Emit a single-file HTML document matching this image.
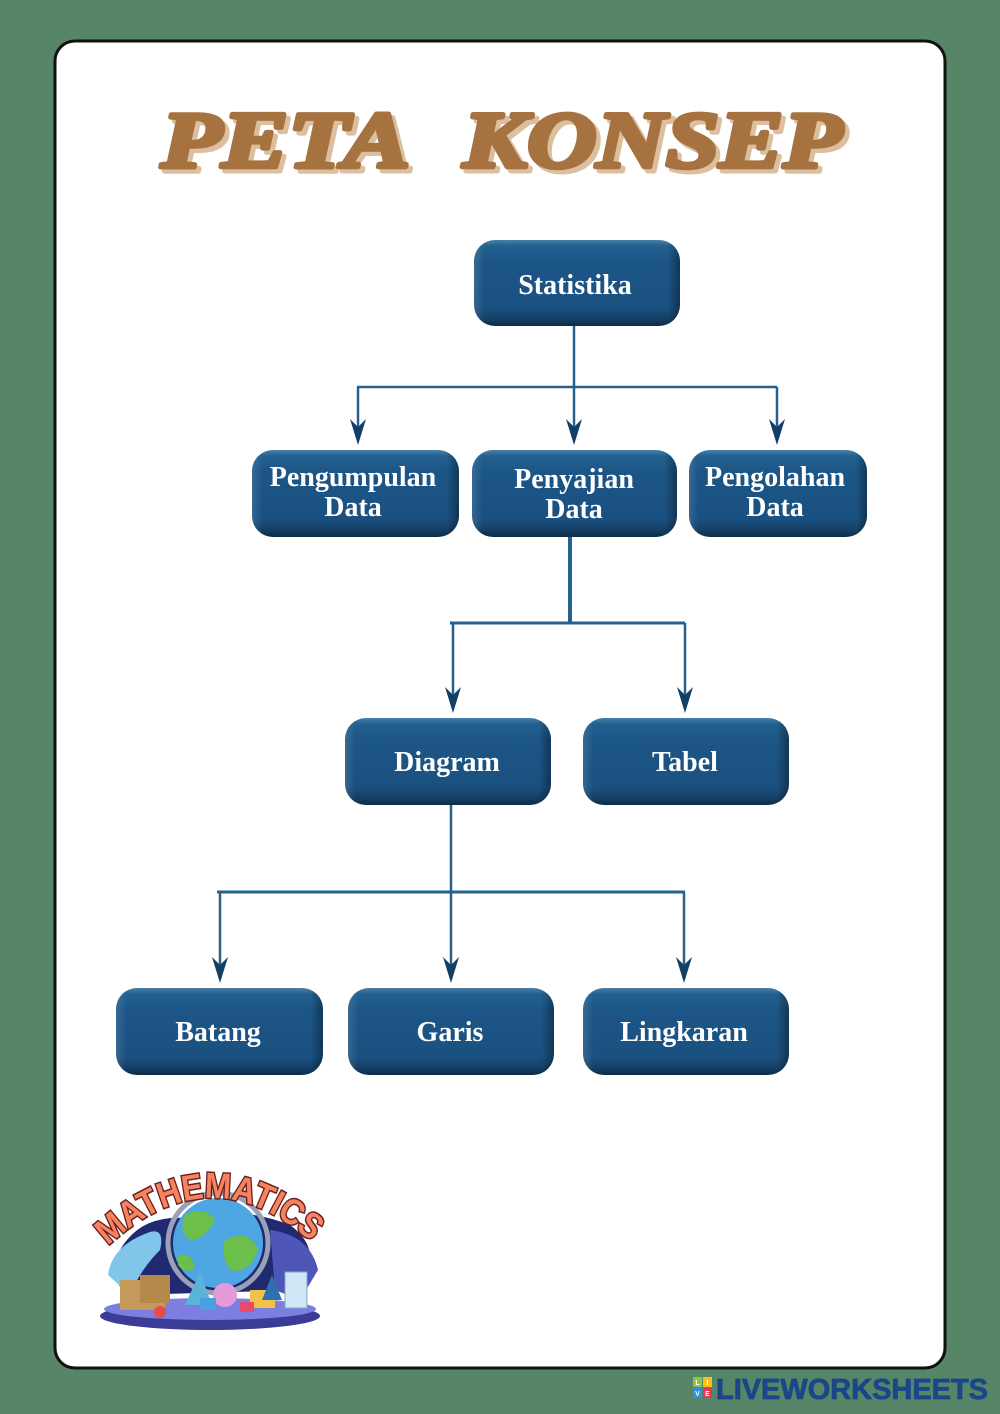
<!DOCTYPE html>
<html><head><meta charset="utf-8"><style>
html,body{margin:0;padding:0;background:#578567;}
svg{display:block;}
</style></head><body>
<svg width="1000" height="1414" viewBox="0 0 1000 1414" xmlns="http://www.w3.org/2000/svg">
<defs>
<linearGradient id="bv" x1="0" y1="0" x2="0" y2="1">
<stop offset="0" stop-color="#4a7fa8"/>
<stop offset="0.07" stop-color="#22608f"/>
<stop offset="0.25" stop-color="#1c5686"/>
<stop offset="0.8" stop-color="#1a5080"/>
<stop offset="0.93" stop-color="#143d62"/>
<stop offset="1" stop-color="#0e2a45"/>
</linearGradient>
<linearGradient id="bh" x1="0" y1="0" x2="1" y2="0">
<stop offset="0" stop-color="#ffffff" stop-opacity="0.12"/>
<stop offset="0.05" stop-color="#ffffff" stop-opacity="0"/>
<stop offset="0.94" stop-color="#000" stop-opacity="0"/>
<stop offset="1" stop-color="#000" stop-opacity="0.35"/>
</linearGradient>
<g id="ah"><path d="M0,0 L-8,-26 L0,-18 L8,-26 Z" fill="#133f66"/></g>
</defs>

<rect x="0" y="0" width="1000" height="1414" fill="#578567"/>
<rect x="55" y="41" width="890" height="1327" rx="20" ry="20" fill="#ffffff" stroke="#111" stroke-width="3"/>

<!-- Title -->
<g font-family="Liberation Serif, serif" font-weight="bold" font-style="italic" font-size="80">
<text x="165" y="171" fill="#dbbf9e" stroke="#dbbf9e" stroke-width="5" stroke-linejoin="round" textLength="249" lengthAdjust="spacingAndGlyphs">PETA</text>
<text x="467" y="171" fill="#dbbf9e" stroke="#dbbf9e" stroke-width="5" stroke-linejoin="round" textLength="379" lengthAdjust="spacingAndGlyphs">KONSEP</text>
<text x="161" y="167" fill="#a6723f" stroke="#a6723f" stroke-width="4.5" stroke-linejoin="round" textLength="249" lengthAdjust="spacingAndGlyphs">PETA</text>
<text x="463" y="167" fill="#a6723f" stroke="#a6723f" stroke-width="4.5" stroke-linejoin="round" textLength="379" lengthAdjust="spacingAndGlyphs">KONSEP</text>
</g>

<!-- Connectors -->
<g stroke="#25618e" stroke-width="2.5" fill="none">
<line x1="574" y1="325" x2="574" y2="430"/>
<line x1="357" y1="387" x2="777" y2="387"/>
<line x1="358" y1="387" x2="358" y2="430"/>
<line x1="777" y1="387" x2="777" y2="430"/>
<line x1="570" y1="537" x2="570" y2="624" stroke-width="4"/>
<line x1="450" y1="623" x2="685" y2="623" stroke-width="3"/>
<line x1="453" y1="623" x2="453" y2="700"/>
<line x1="685" y1="623" x2="685" y2="700"/>
<line x1="451" y1="804" x2="451" y2="970"/>
<line x1="217" y1="892" x2="685" y2="892" stroke-width="3"/>
<line x1="220" y1="892" x2="220" y2="970"/>
<line x1="684" y1="892" x2="684" y2="970"/>
</g>
<use href="#ah" x="358" y="445"/>
<use href="#ah" x="574" y="445"/>
<use href="#ah" x="777" y="445"/>
<use href="#ah" x="453" y="713"/>
<use href="#ah" x="685" y="713"/>
<use href="#ah" x="220" y="983"/>
<use href="#ah" x="451" y="983"/>
<use href="#ah" x="684" y="983"/>

<!-- Boxes -->
<g>
<rect x="474" y="240" width="206" height="86" rx="21" fill="url(#bv)"/><rect x="474" y="240" width="206" height="86" rx="21" fill="url(#bh)"/>
<rect x="252" y="450" width="207" height="87" rx="21" fill="url(#bv)"/><rect x="252" y="450" width="207" height="87" rx="21" fill="url(#bh)"/>
<rect x="472" y="450" width="205" height="87" rx="21" fill="url(#bv)"/><rect x="472" y="450" width="205" height="87" rx="21" fill="url(#bh)"/>
<rect x="689" y="450" width="178" height="87" rx="21" fill="url(#bv)"/><rect x="689" y="450" width="178" height="87" rx="21" fill="url(#bh)"/>
<rect x="345" y="718" width="206" height="87" rx="21" fill="url(#bv)"/><rect x="345" y="718" width="206" height="87" rx="21" fill="url(#bh)"/>
<rect x="583" y="718" width="206" height="87" rx="21" fill="url(#bv)"/><rect x="583" y="718" width="206" height="87" rx="21" fill="url(#bh)"/>
<rect x="116" y="988" width="207" height="87" rx="21" fill="url(#bv)"/><rect x="116" y="988" width="207" height="87" rx="21" fill="url(#bh)"/>
<rect x="348" y="988" width="206" height="87" rx="21" fill="url(#bv)"/><rect x="348" y="988" width="206" height="87" rx="21" fill="url(#bh)"/>
<rect x="583" y="988" width="206" height="87" rx="21" fill="url(#bv)"/><rect x="583" y="988" width="206" height="87" rx="21" fill="url(#bh)"/>
</g>

<g font-family="Liberation Serif, serif" font-weight="bold" font-size="28" fill="#ffffff" text-anchor="middle">
<text x="575" y="294">Statistika</text>
<text x="353" y="486">Pengumpulan</text>
<text x="353" y="516">Data</text>
<text x="574" y="488">Penyajian</text>
<text x="574" y="518">Data</text>
<text x="775" y="486">Pengolahan</text>
<text x="775" y="516">Data</text>
<text x="447" y="771">Diagram</text>
<text x="685" y="771">Tabel</text>
<text x="218" y="1041">Batang</text>
<text x="450" y="1041">Garis</text>
<text x="684" y="1041">Lingkaran</text>
</g>

<!-- Mathematics logo -->
<g>
<ellipse cx="210" cy="1316" rx="110" ry="14" fill="#3a3c98"/>
<ellipse cx="210" cy="1309" rx="106" ry="11" fill="#7d7fe0"/>
<path d="M120,1250 Q140,1215 185,1218 Q240,1205 290,1225 Q325,1250 300,1290 L130,1295 Q105,1280 120,1250 Z" fill="#1f2a70"/>
<path d="M108,1275 Q112,1245 150,1232 Q165,1228 160,1250 Q140,1270 130,1295 Z" fill="#7fc6ea"/>
<path d="M270,1230 Q310,1235 318,1270 L300,1300 L275,1290 Z" fill="#4e56b8"/>
<circle cx="218" cy="1243" r="50" fill="none" stroke="#9aa0b8" stroke-width="5"/>
<circle cx="218" cy="1243" r="45" fill="#4ea7e2"/>
<path d="M185,1215 Q205,1205 215,1220 Q205,1240 190,1240 Q178,1232 185,1215 Z" fill="#6cbf4a"/>
<path d="M225,1240 Q250,1228 258,1250 Q248,1275 230,1270 Q220,1255 225,1240 Z" fill="#6cbf4a"/>
<path d="M178,1255 Q192,1252 195,1268 Q185,1275 178,1265 Z" fill="#6cbf4a"/>
<rect x="120" y="1280" width="45" height="30" fill="#c49a5a"/>
<rect x="140" y="1275" width="30" height="28" fill="#b5894a"/>
<circle cx="225" cy="1295" r="12" fill="#e49ad8"/>
<polygon points="185,1305 200,1272 212,1305" fill="#5ab4d8"/>
<rect x="250" y="1290" width="25" height="18" fill="#f0c24a"/>
<polygon points="262,1300 272,1275 282,1300" fill="#2f6fb0"/>
<rect x="285" y="1272" width="22" height="36" fill="#cfe6f5" stroke="#7fa8d0" stroke-width="1"/>
<circle cx="160" cy="1312" r="6" fill="#e84a4a"/>
<rect x="200" y="1298" width="16" height="12" fill="#4aa0e0"/>
<rect x="240" y="1302" width="14" height="10" fill="#e84a6a"/>
<path id="arc" d="M108,1246 Q212,1150 316,1246" fill="none"/>
<text font-family="Liberation Sans, sans-serif" font-weight="bold" font-size="36" fill="#f4845f" stroke="#6b1e1e" stroke-width="3" paint-order="stroke"><textPath href="#arc" textLength="228" lengthAdjust="spacingAndGlyphs">MATHEMATICS</textPath></text>
</g>

<!-- Liveworksheets -->
<rect x="693" y="1377" width="9" height="10" fill="#8cc63f"/>
<rect x="703" y="1377" width="9" height="10" fill="#f4c21b"/>
<rect x="693" y="1388" width="9" height="10" fill="#2f8fe0"/>
<rect x="703" y="1388" width="9" height="10" fill="#e4364f"/>
<g font-family="Liberation Sans, sans-serif" font-weight="bold" font-size="7" fill="#fff" text-anchor="middle">
<text x="697.5" y="1385">L</text><text x="707.5" y="1385">I</text>
<text x="697.5" y="1396">V</text><text x="707.5" y="1396">E</text>
</g>
<text x="716" y="1399" font-family="Liberation Sans, sans-serif" font-weight="bold" font-size="29" fill="#1a4789" stroke="#1a4789" stroke-width="0.8" textLength="272" lengthAdjust="spacingAndGlyphs">LIVEWORKSHEETS</text>
</svg>
</body></html>
